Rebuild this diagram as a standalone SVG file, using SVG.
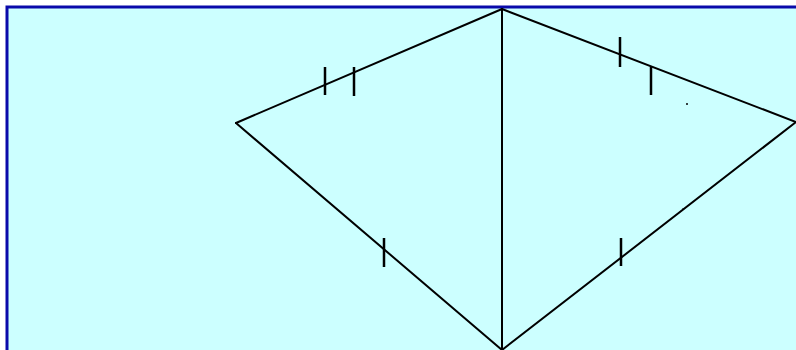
<svg xmlns="http://www.w3.org/2000/svg" width="796" height="350" viewBox="0 0 796 350">
<style>
.e{stroke:#000;stroke-width:2;fill:none;stroke-linecap:round}
.t{stroke:#000;stroke-width:2.5;fill:none}
</style>
<rect x="0" y="0" width="796" height="350" fill="#fff"/>
<rect x="7" y="7" width="800" height="350" fill="#ccffff" stroke="#0a0aaa" stroke-width="3"/>
<g id="connectors">
<line class="e" x1="502" y1="9" x2="236" y2="123"/>
<line class="e" x1="236" y1="123" x2="502" y2="350"/>
<line class="e" x1="502" y1="9" x2="796" y2="122"/>
<line class="e" x1="796" y1="122" x2="502" y2="350"/>
<line class="e" x1="502" y1="9" x2="502" y2="350"/>
</g>
<g id="ticks">
<line class="t" x1="325" y1="67" x2="325" y2="95"/>
<line class="t" x1="354" y1="67" x2="354" y2="96"/>
<line class="t" x1="620" y1="37" x2="620" y2="67"/>
<line class="t" x1="651" y1="67" x2="651" y2="95"/>
<line class="t" x1="384" y1="238" x2="384" y2="267"/>
<line class="t" x1="621" y1="238" x2="621" y2="266"/>
<circle cx="687" cy="104" r="1" fill="#000"/>
<circle cx="683" cy="209" r="0.8" fill="#000"/>
</g>
</svg>
